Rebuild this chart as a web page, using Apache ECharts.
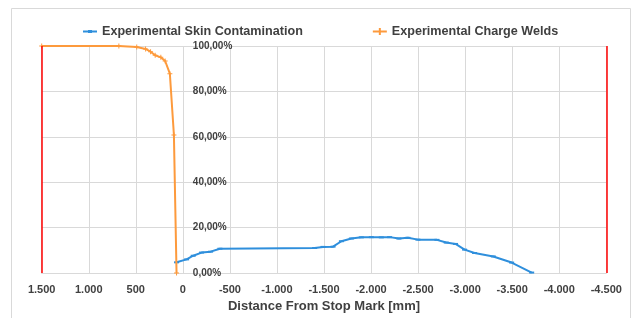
<!DOCTYPE html>
<html>
<head>
<meta charset="utf-8">
<script src="https://cdn.jsdelivr.net/npm/echarts@6/dist/echarts.min.js"></script>
<style>
    html, body { margin: 0; padding: 0; background: #fff; }
    #chart { width: 635px; height: 318px; }
</style>
</head>
<body>
<div id="chart"></div>
<script>
//distance from stop mark [mm] and share [%]
var skinX = [67, -40, -110, -199, -295, -394, -1400, -1490, -1596, -1685, -1791, -1897, -2003, -2109, -2197, -2296, -2392, -2498, -2700, -2799, -2898, -2994, -3100, -3299, -3494, -3707];
var skinY = [4.7, 6.0, 7.6, 9.0, 9.4, 10.7, 11.0, 11.5, 11.6, 14.0, 15.2, 15.7, 15.8, 15.7, 15.8, 15.2, 15.5, 14.7, 14.6, 13.4, 12.8, 10.3, 8.8, 7.3, 4.6, 0.2];
var weldX = [1500, 680, 490, 396, 343, 294, 234, 188, 138, 95, 67];
var weldY = [100, 100, 99.6, 98.7, 97.5, 95.9, 95.0, 93.4, 87.8, 60.8, 0];
var limitX = [1500, -4500];
var seriesNames = ['Experimental Skin Contamination', 'Experimental Charge Welds'];
var xTitle = 'Distance From Stop Mark [mm]';

function pairs(xs, ys) {
    var out = [];
    for (var i = 0; i < xs.length; i++) out.push([xs[i], ys[i]]);
    return out;
}
//1.500 / -4.500 style
function fmtX(v) {
    var s = Math.abs(v).toString().replace(/\B(?=(\d{3})+(?!\d))/g, '.');
    return (v < 0 ? '-' : '') + s;
}
function fmtY(v) {
    return v.toFixed(2).replace('.', ',') + '%';
}

var chart = echarts.init(document.getElementById('chart'));
var font = 'Liberation Sans';
//legend icons: line with marker, first two moves only fix the box size
var iconSkin = 'path://M0,0M14,8M0,3H5V2.5H9V3H14V5H9V5.5H5V5H0Z';
var iconWeld = 'path://M0,0M14,8M0,3H6V0.5H8V3H14V5H8V7.5H6V5H0Z';
var gridLeft = 41.7, gridRight = 28.7;
var plotW = 635 - gridLeft - gridRight;
//value axis sits on x = 0 (offset from the left edge of the grid)
var yAxisShift = -plotW * (1500 - 0) / 6000;
var option = {
    backgroundColor: '#fff',
    animation: false,
    graphic: [{
        type: 'rect', shape: { x: 11.5, y: 8.5, width: 619, height: 330 },
        style: { fill: 'none', stroke: '#d9d9d9', lineWidth: 1 }, silent: true
    }],
    legend: {
        top: 20, left: 78, itemGap: 70, itemWidth: 14, itemHeight: 8,
        data: [
            { name: seriesNames[0], icon: iconSkin },
            { name: seriesNames[1], icon: iconWeld }
        ],
        textStyle: { fontFamily: font, fontSize: 12.6, fontWeight: 'bold', color: '#404040' }
    },
    grid: { left: gridLeft, right: gridRight, top: 46, bottom: 45, containLabel: false },
    xAxis: {
        type: 'value', min: -4500, max: 1500, interval: 500, inverse: true,
        name: xTitle, nameLocation: 'middle', nameGap: 26,
        nameTextStyle: { fontFamily: font, fontSize: 13, fontWeight: 'bold', color: '#404040' },
        axisLine: { show: true, onZero: false, lineStyle: { color: '#d9d9d9' } },
        axisTick: { show: false },
        axisLabel: { formatter: fmtX, margin: 11, fontFamily: font, fontSize: 11, fontWeight: 'bold', color: '#404040' },
        splitLine: { show: true, lineStyle: { color: '#d9d9d9', width: 1 } }
    },
    yAxis: {
        type: 'value', min: 0, max: 100, interval: 20, position: 'left', offset: yAxisShift,
        axisLine: { show: false, onZero: false },
        axisTick: { show: false },
        axisLabel: { inside: true, margin: 10, formatter: fmtY, fontFamily: font, fontSize: 10, fontWeight: 'bold', color: '#404040' },
        splitLine: { show: true, lineStyle: { color: '#d9d9d9', width: 1 } }
    },
    series: [
        {
            name: seriesNames[0], type: 'line', data: pairs(skinX, skinY),
            color: '#2f8fdc', lineStyle: { width: 2 },
            symbol: 'path://M0,0H10V3H0Z', symbolSize: [5, 2], showSymbol: true,
            z: 3
        },
        {
            name: seriesNames[1], type: 'line', data: pairs(weldX, weldY),
            color: '#fd9a3c', lineStyle: { width: 2 },
            symbol: 'path://M4,0H6V4H10V6H6V10H4V6H0V4H4Z', symbolSize: 5, showSymbol: true,
            z: 4,
            //red limit lines at both ends of the axis
            markLine: {
                silent: true, symbol: 'none', label: { show: false },
                lineStyle: { color: '#ff0000', width: 1.5, type: 'solid' },
                data: limitX.map(function (v) { return { xAxis: v }; })
            }
        }
    ]
};
chart.setOption(option);
</script>
</body>
</html>
